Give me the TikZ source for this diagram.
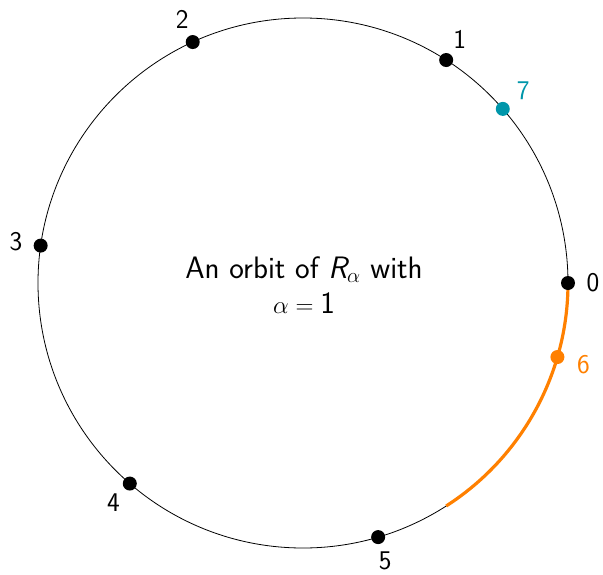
\documentclass[tikz,border=0pt]{standalone}
\usepackage{amsmath}
\definecolor{orbteal}{RGB}{0,150,170}
\definecolor{orborange}{RGB}{255,128,0}
\tikzset{
  dot/.style={circle,fill,inner sep=0pt,minimum size=14pt},
  lab/.style={font=\sffamily\fontsize{27}{32}\selectfont,inner sep=0pt},
}
\begin{document}
\begin{tikzpicture}[x=1pt,y=1pt]
\useasboundingbox (-303,-291) rectangle (300,283);
\coordinate (c) at (0,0);
\draw[line width=0.8pt] (c) circle[radius=265];
\draw[orborange,line width=3.2pt] (0:265) arc[start angle=0,end angle=-57.2958,radius=265];
\foreach \k in {0,...,5}{
  \node[dot] (p\k) at ({\k*57.2958}:265) {};
  \node[lab] (l\k) at ({\k*57.2958}:290) {\k};
}
\node[dot,orborange] (p6) at ({6*57.2958}:265) {};
\node[lab,text=orborange] (l6) at ({6*57.2958}:292) {6};
\node[dot,orbteal] (p7) at ({7*57.2958}:265) {};
\node[lab,text=orbteal] (l7) at ({7*57.2958}:292) {7};
\node[lab,align=center,font=\sffamily\fontsize{31}{35}\selectfont] (t) at (1,-2) {An orbit of {\itshape R}$_{\alpha}$ with\\$\alpha=\textsf{1}$};
\end{tikzpicture}
\end{document}
